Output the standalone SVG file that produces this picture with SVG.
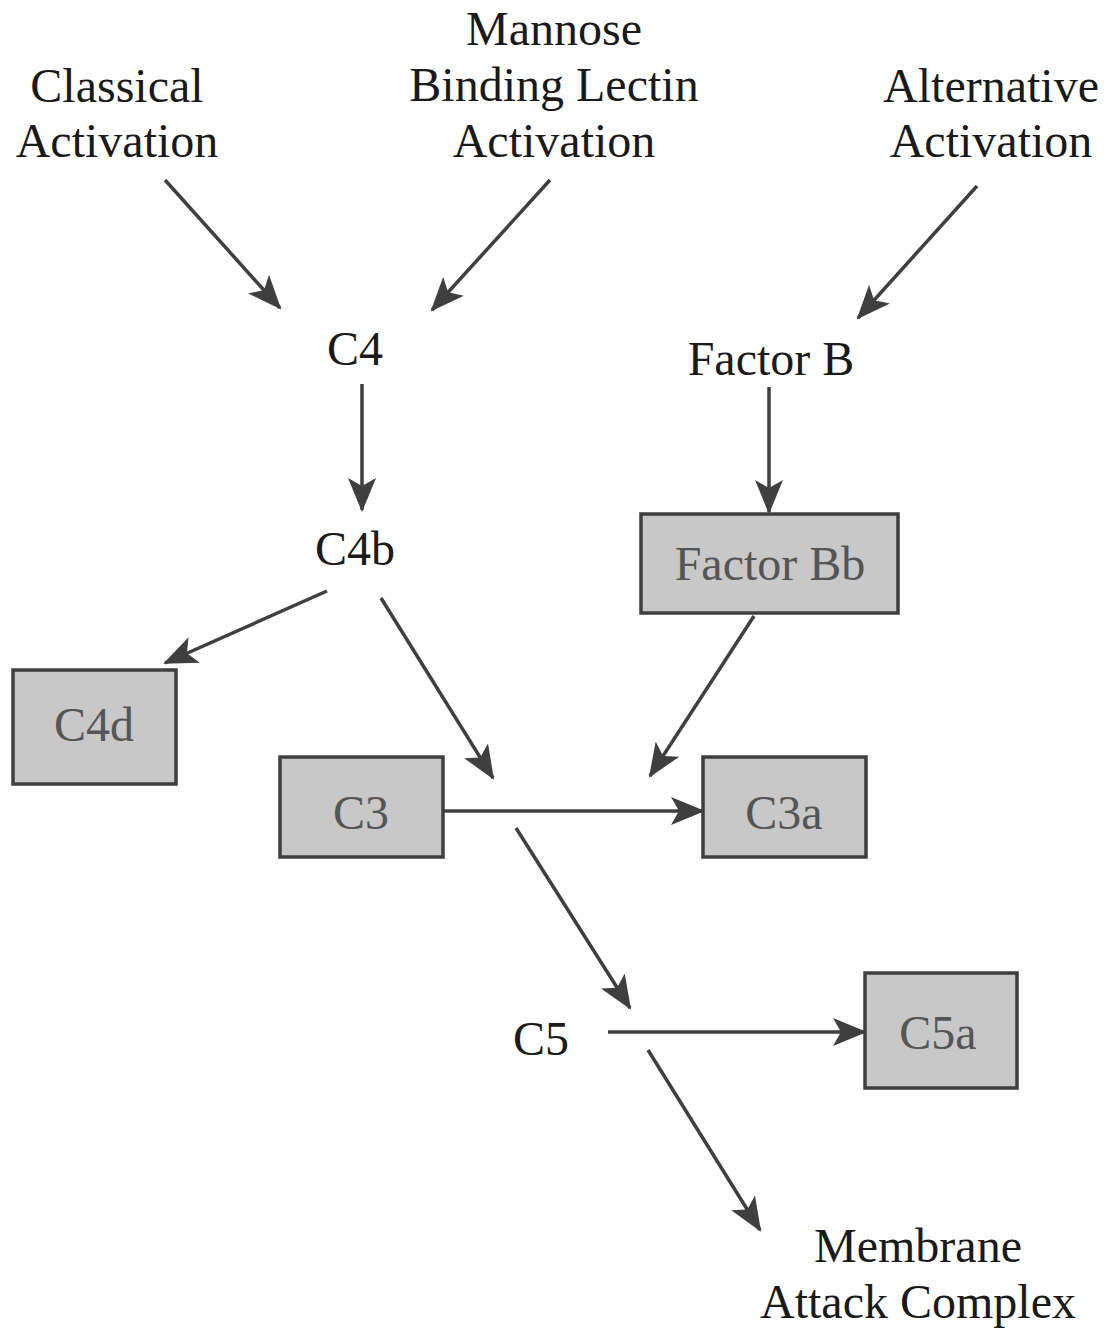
<svg xmlns="http://www.w3.org/2000/svg" width="1120" height="1330" viewBox="0 0 1120 1330">
<defs>
<marker id="ah" markerUnits="userSpaceOnUse" markerWidth="34" markerHeight="28" viewBox="0 0 34 28" refX="32" refY="14" orient="auto">
<path d="M0,0 L34,14 L0,28 L8,14 z" fill="#3f3f3f"/>
</marker>
<style>
.t{font-family:"Liberation Serif","DejaVu Serif",serif;font-size:48px;fill:#1a1a1a;text-anchor:middle}
.bt{font-family:"Liberation Serif","DejaVu Serif",serif;font-size:48px;fill:#555;text-anchor:middle}
.box{fill:#c8c8c8;stroke:#3f3f3f;stroke-width:3.5}
.c line{stroke:#3f3f3f;stroke-width:3.5;marker-end:url(#ah)}
</style>
</defs>
<rect width="1120" height="1330" fill="#fff"/>
<g id="classical"><text class="t" x="117" y="102">Classical</text><text class="t" x="117" y="157">Activation</text></g>
<g id="mbl"><text class="t" x="554" y="45">Mannose</text><text class="t" x="554" y="101">Binding Lectin</text><text class="t" x="554" y="157">Activation</text></g>
<g id="alternative"><text class="t" x="991" y="102">Alternative</text><text class="t" x="991" y="157">Activation</text></g>
<g id="c4"><text class="t" x="355" y="365">C4</text></g>
<g id="factorB"><text class="t" x="771" y="375">Factor B</text></g>
<g id="c4b"><text class="t" x="355" y="565">C4b</text></g>
<g id="factorBb"><rect class="box" x="641" y="514" width="257" height="99"/><text class="bt" x="770" y="580">Factor Bb</text></g>
<g id="c4d"><rect class="box" x="13" y="670" width="163" height="114"/><text class="bt" x="94" y="741">C4d</text></g>
<g id="c3"><rect class="box" x="280" y="757" width="163" height="100"/><text class="bt" x="361" y="829">C3</text></g>
<g id="c3a"><rect class="box" x="703" y="757" width="163" height="100"/><text class="bt" x="784" y="829">C3a</text></g>
<g id="c5"><text class="t" x="541" y="1055">C5</text></g>
<g id="c5a"><rect class="box" x="865" y="973" width="152" height="115"/><text class="bt" x="938" y="1049">C5a</text></g>
<g id="mac"><text class="t" x="918" y="1262">Membrane</text><text class="t" x="918" y="1318">Attack Complex</text></g>
<g class="c" id="connectors">
<line x1="165" y1="180" x2="280" y2="308"/>
<line x1="550" y1="180" x2="432" y2="310"/>
<line x1="977" y1="186" x2="858" y2="318"/>
<line x1="362" y1="384" x2="362" y2="510"/>
<line x1="769" y1="387" x2="769" y2="512"/>
<line x1="327" y1="591" x2="165" y2="663"/>
<line x1="381" y1="598" x2="493" y2="778"/>
<line x1="754" y1="616" x2="650" y2="776"/>
<line x1="443" y1="811" x2="703" y2="811"/>
<line x1="516" y1="828" x2="630" y2="1008"/>
<line x1="608" y1="1032" x2="865" y2="1032"/>
<line x1="648" y1="1050" x2="760" y2="1230"/>
</g>
</svg>
